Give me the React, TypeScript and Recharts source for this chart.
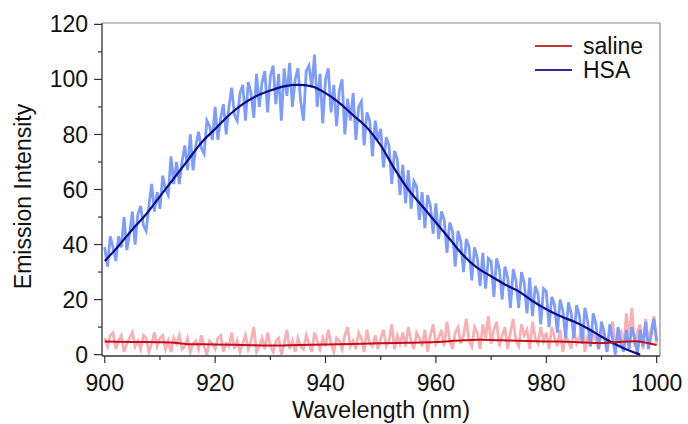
import React from "react";
import { LineChart, Line, XAxis, YAxis, Label, ReferenceLine } from "recharts";

const FONT = "'Liberation Sans', Arial, Helvetica, sans-serif";

// raw spectra, sampled every 0.5 nm from 900 nm
const RAW_START = 900;
const RAW_STEP = 0.5;

const HSA_RAW = [
  39, 32, 43, 39, 34, 43, 39, 50, 38, 44,
  52, 40, 51, 54, 47, 45, 54, 62, 52, 59,
  53, 65, 60, 58, 72, 62, 70, 62, 70, 76,
  67, 80, 67, 76, 81, 75, 73, 85, 83, 78,
  90, 78, 86, 91, 80, 90, 97, 87, 85, 95,
  98, 85, 99, 95, 86, 102, 90, 99, 103, 88,
  101, 105, 91, 102, 85, 104, 94, 106, 90, 100,
  104, 92, 85, 103, 105, 97, 109, 90, 102, 84,
  100, 104, 88, 98, 83, 96, 100, 80, 93, 85,
  95, 78, 90, 92, 76, 88, 85, 72, 85, 78,
  82, 68, 79, 76, 62, 74, 71, 58, 69, 55,
  67, 53, 63, 61, 49, 59, 46, 58, 54, 44,
  55, 42, 52, 49, 37, 48, 45, 32, 45, 41,
  30, 42, 39, 27, 39, 35, 25, 37, 24, 35,
  34, 21, 35, 31, 20, 32, 28, 17, 31, 27,
  17, 30, 26, 15, 28, 14, 25, 22, 11, 24,
  23, 10, 21, 18, 8, 20, 16, 6, 19, 15,
  6, 18, 14, 4, 17, 12, 3, 15, 11, 2,
  12, 8, 1, 11, 6, 0, 10, 4, 1, 9,
  2, 10, 6, 0, 9, 3, 12, 2, 7, 13,
  5,
];

const SALINE_RAW = [
  6, 3, 7, 8, 2, 5, 7, 1, 4, 6,
  8, 3, 5, 2, 7, 6, 1, 4, 8, 3,
  6, 7, 2, 5, 1, 6, 4, 7, 2, 3,
  6, 1, 4, 5, 2, 7, 3, 0, 5, 4,
  2, 6, 7, 1, 4, 3, 8, 2, 5, 1,
  4, 7, 2, 5, 10, 1, 3, 6, 2, 8,
  3, 1, 5, 6, 0, 4, 9, 2, 5, 1,
  6, 3, 2, 7, 4, 1, 8, 5, 2, 6,
  3, 9, 4, 1, 6, 5, 2, 7, 10, 3,
  5, 2, 8, 6, 1, 9, 4, 3, 7, 2,
  6, 9, 3, 5, 11, 2, 7, 4, 8, 3,
  10, 5, 2, 8, 6, 3, 9, 1, 7, 11,
  4, 6, 9, 3, 12, 5, 2, 8, 10, 4,
  7, 13, 5, 3, 10, 8, 2, 11, 6, 14,
  4, 9, 12, 3, 7, 10, 2, 8, 13, 5,
  3, 11, 7, 9, 2, 12, 6, 4, 10, 5,
  8, 2, 10, 6, 3, 9, 1, 7, 5, 2,
  9, 4, 6, 11, 1, 7, 3, 8, 5, 2,
  10, 6, 1, 8, 12, 3, 5, 9, 2, 15,
  6, 17, 3, 8, 11, 2, 13, 5, 9, 14,
  4,
];

// smoothed fits
const HSA_FIT_X = [
  900, 902.5, 905, 907.5, 910, 912.5, 915, 917.5, 920, 922.5, 925, 927.5,
  930, 932.5, 935, 937.5, 940, 942.5, 945, 947.5, 950, 952.5, 955, 957.5,
  960, 962.5, 965, 967.5, 970, 972.5, 975, 977.5, 980, 982.5, 985, 987.5,
  990, 992.5, 995, 997,
];
const HSA_FIT_Y = [
  34, 39.5, 45.5, 51, 57.5, 64, 70.5, 77, 82, 87, 91, 94,
  96, 97.5, 98, 97.5, 95, 91.5, 87, 82.5, 76, 67.5, 60, 54,
  48, 42, 36, 31.5, 28.5, 25.5, 23, 19.5, 16.5, 14, 12, 9.5,
  6.5, 3.8, 1.5, 0,
];

const SALINE_FIT_X = [
  900, 905, 910, 912, 915, 920, 925, 930, 935, 940, 945, 950,
  955, 960, 965, 968, 972, 975, 980, 985, 990, 993, 996, 1000,
];
const SALINE_FIT_Y = [
  4.8, 4.6, 4.5, 4.4, 3.8, 3.7, 3.5, 3.3, 3.5, 3.7, 3.9, 4.1,
  4.3, 4.6, 5.2, 5.4, 5.2, 5.0, 4.8, 4.6, 4.2, 4.6, 4.9, 3.5,
];

const X_TICKS = [900, 910, 920, 930, 940, 950, 960, 970, 980, 990, 1000];
const Y_TICKS = [0, 10, 20, 30, 40, 50, 60, 70, 80, 90, 100, 110, 120];

const LEGEND = [
  { name: "saline", color: "#c8323c" },
  { name: "HSA", color: "#2b2b9c" },
];

const hsaRaw = HSA_RAW.map((v, i) => ({ x: RAW_START + i * RAW_STEP, y: v }));
const salineRaw = SALINE_RAW.map((v, i) => ({ x: RAW_START + i * RAW_STEP, y: v }));
const hsaFit = HSA_FIT_X.map((x, i) => ({ x, y: HSA_FIT_Y[i] }));
const salineFit = SALINE_FIT_X.map((x, i) => ({ x, y: SALINE_FIT_Y[i] }));

const AXIS_COLOR = "#333";

function XTick(props: any) {
  const { x, y, payload } = props;
  const major = payload.value % 20 === 0;
  return (
    <g>
      <line x1={x} x2={x} y1={y} y2={y + (major ? 7 : 4)} stroke={AXIS_COLOR} strokeWidth={1.2} />
      {major && (
        <text x={x} y={y + 35} textAnchor="middle" fontSize={23} fontFamily={FONT} fill="#111">
          {payload.value}
        </text>
      )}
    </g>
  );
}

function YTick(props: any) {
  const { x, y, payload } = props;
  const major = payload.value % 20 === 0;
  return (
    <g>
      <line x1={x} x2={x - (major ? 8 : 4)} y1={y} y2={y} stroke={AXIS_COLOR} strokeWidth={1.2} />
      {major && (
        <text x={x - 14} y={y} dy="0.35em" textAnchor="end" fontSize={23} fontFamily={FONT} fill="#111">
          {payload.value}
        </text>
      )}
    </g>
  );
}

function LegendBox() {
  return (
    <div
      style={{
        position: "absolute",
        left: 535,
        top: 34,
        fontFamily: FONT,
        fontSize: 23,
        color: "#111",
        lineHeight: "24px",
      }}
    >
      {LEGEND.map((item) => (
        <div key={item.name} style={{ display: "flex", alignItems: "center" }}>
          <span style={{ display: "inline-block", width: 37, height: 2, background: item.color, marginRight: 11 }} />
          <span>{item.name}</span>
        </div>
      ))}
    </div>
  );
}

export default function App() {
  return (
    <div style={{ position: "fixed", left: 0, top: 0, width: 688, height: 424, background: "#fff" }}>
      <LineChart width={688} height={424} margin={{ top: 23, right: 28, bottom: 0, left: 0 }}>
        <XAxis
          type="number"
          dataKey="x"
          domain={[899.5, 1000.6]}
          allowDataOverflow
          ticks={X_TICKS}
          interval={0}
          height={68}
          tickSize={0}
          tickMargin={0}
          tickLine={false}
          tick={<XTick />}
          stroke={AXIS_COLOR}
          strokeWidth={1.3}
        >
          <Label
            content={(p: any) => {
              const vb = p.viewBox;
              return (
                <text x={vb.x + vb.width / 2} y={vb.y + 62} textAnchor="middle" fontSize={23.5} fontFamily={FONT} fill="#111">
                  Wavelength (nm)
                </text>
              );
            }}
          />
        </XAxis>
        <YAxis
          type="number"
          domain={[-0.5, 120.5]}
          allowDataOverflow
          ticks={Y_TICKS}
          interval={0}
          width={102}
          tickSize={0}
          tickMargin={0}
          tickLine={false}
          tick={<YTick />}
          stroke={AXIS_COLOR}
          strokeWidth={1.3}
        >
          <Label
            content={(p: any) => {
              const vb = p.viewBox;
              const cx = vb.x + 31;
              const cy = vb.y + vb.height / 2 + 7;
              return (
                <text
                  x={cx}
                  y={cy}
                  transform={`rotate(-90 ${cx} ${cy})`}
                  textAnchor="middle"
                  fontSize={23}
                  fontFamily={FONT}
                  fill="#111"
                >
                  Emission Intensity
                </text>
              );
            }}
          />
        </YAxis>
        <ReferenceLine y={120.5} stroke="#8a8a8a" strokeWidth={1.2} />
        <ReferenceLine x={1000.6} stroke="#8a8a8a" strokeWidth={1.2} />
        <Line data={salineRaw} dataKey="y" type="linear" stroke="#f7b0b3" strokeWidth={2.8} dot={false} activeDot={false} isAnimationActive={false} />
        <Line data={hsaRaw} dataKey="y" type="linear" stroke="#809df5" strokeWidth={2.8} dot={false} activeDot={false} isAnimationActive={false} />
        <Line data={hsaFit} dataKey="y" type="monotone" stroke="#0c0c8a" strokeWidth={2.2} dot={false} activeDot={false} isAnimationActive={false} />
        <Line data={salineFit} dataKey="y" type="monotone" stroke="#c0101c" strokeWidth={2} dot={false} activeDot={false} isAnimationActive={false} />
      </LineChart>
      <LegendBox />
    </div>
  );
}
